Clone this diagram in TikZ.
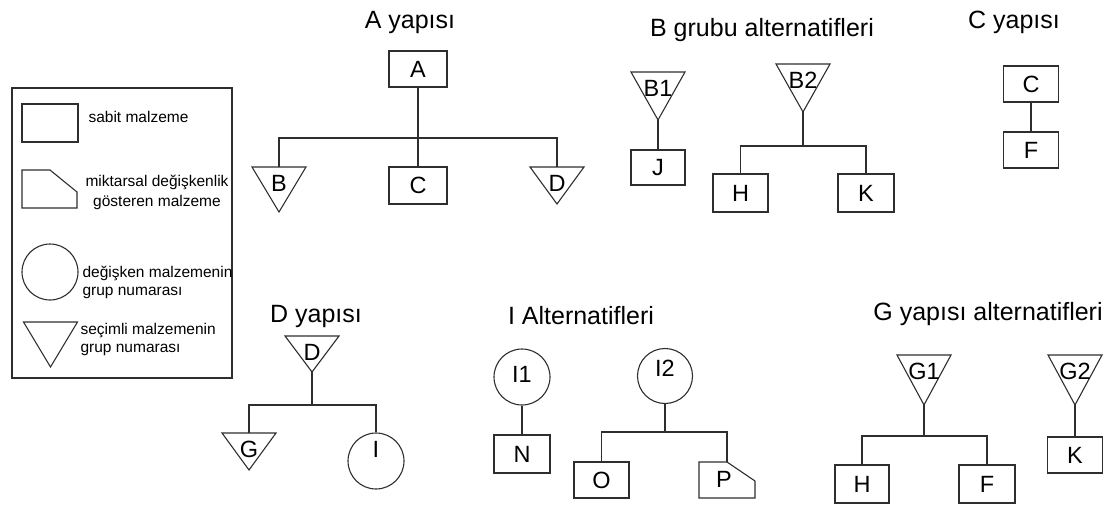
\documentclass[tikz,border=0pt]{standalone}
\usepackage{fontspec}
\setmainfont{Liberation Sans}

% downward triangle: name, centre x, top y, apex y, text
\newcommand\downtri[5]{%
  \coordinate (#1-top) at (#2,#3);
  \coordinate (#1-apex) at (#2,#4);
  \draw[line join=miter] (#2-27,#3) -- (#2+27,#3) -- (#1-apex) -- cycle;
  \node[lbl] (#1) at (#2,#3+16) {#5};}

\begin{document}
\begin{tikzpicture}[x=1pt,y=-1pt,
  color=black!82, text=black, line width=1.1pt,
  box/.style={draw, rectangle, minimum width=56pt, minimum height=37pt, inner sep=0pt,
              font=\fontsize{23.5}{23.5}\selectfont},
  circ/.style={draw, circle, minimum size=56pt, inner sep=0pt},
  lbl/.style={inner sep=0pt, font=\fontsize{23.5}{23.5}\selectfont},
  title/.style={anchor=base, inner sep=0pt, font=\fontsize{25}{25}\selectfont},
  legtext/.style={inner sep=0pt, font=\fontsize{15.5}{18}\selectfont}]

\useasboundingbox (0,0) rectangle (1114,506);

% ---------- legend ----------
\node[draw, rectangle, minimum width=220pt, minimum height=290pt, inner sep=0pt] (legend) at (122,233) {};
\node[box, minimum width=56pt, minimum height=38pt] (legbox) at (50,123) {};
\node[legtext, anchor=west] (legboxtxt) at (88,117) {sabit malzeme};
\draw[line join=miter] (22,170) -- (50,170) -- (77,192) -- (77,208) -- (22,208) -- cycle;
\node[legtext, align=center, font=\fontsize{15.5}{20}\selectfont] (legpenttxt) at (157,192)
  {miktarsal değişkenlik\\gösteren malzeme};
\node[circ] (legcirc) at (50,272) {};
\node[legtext, anchor=west, align=left] (legcirctxt) at (82,282) {değişken malzemenin\\grup numarası};
\downtri{legtri}{50.5}{322}{367}{}
\node[legtext, anchor=west, align=left] (legtritxt) at (80,339) {seçimli malzemenin\\grup numarası};

% ---------- A yapısı ----------
\node[title] (ttlA) at (410,28) {A yapısı};
\node[box, minimum width=58pt, minimum height=36pt] (A) at (418,69) {A};
\node[box, minimum width=58pt, minimum height=37pt] (C) at (418,185.5) {C};
\downtri{tB}{279}{167}{212}{B}
\downtri{tD}{557}{167}{204}{D}
\coordinate (Abus) at (418,138);
\draw (A.south) -- (C.north);
\draw (tB-top) |- (Abus) -| (tD-top);

% ---------- B grubu alternatifleri ----------
\node[title] (ttlB) at (762,36) {B grubu alternatifleri};
\downtri{tB1}{658}{72}{120}{B1}
\node[box, minimum width=54pt, minimum height=35pt] (J) at (658,167.5) {J};
\draw (tB1-apex) -- (J.north);
\downtri{tB2}{803}{64}{112}{B2}
\node[box, minimum width=55pt, minimum height=38pt] (HB) at (740.5,193) {H};
\node[box, minimum width=56pt, minimum height=38pt] (KB) at (866,193) {K};
\coordinate (B2bus) at (803,146);
\draw (tB2-apex) -- (B2bus);
\draw (HB.north) |- (B2bus) -| (KB.north);

% ---------- C yapısı ----------
\node[title] (ttlC) at (1014,28) {C yapısı};
\node[box, minimum width=55pt, minimum height=36pt] (CC) at (1031,84) {C};
\node[box, minimum width=55pt, minimum height=36pt] (FC) at (1031,150) {F};
\draw (CC.south) -- (FC.north);

% ---------- D yapısı ----------
\node[title] (ttlD) at (316,322) {D yapısı};
\downtri{tDD}{312}{336}{372}{D}
\downtri{tG}{249}{433}{470}{G}
\node[circ] (I) at (376,461) {};
\node[lbl] (Ilbl) at (376,449) {I};
\coordinate (Dbus) at (312,405);
\draw (tDD-apex) -- (Dbus);
\draw (tG-top) |- (Dbus) -| (I.north);

% ---------- I Alternatifleri ----------
\node[title] (ttlI) at (581,324) {I Alternatifleri};
\node[circ] (I1) at (522,377) {};
\node[lbl] (I1lbl) at (522,374) {I1};
\node[box, minimum width=56pt, minimum height=38pt] (N) at (522,454) {N};
\draw (I1.south) -- (N.north);
\node[circ, minimum size=55pt] (I2) at (665,376) {};
\node[lbl] (I2lbl) at (665,368) {I2};
\node[box, minimum width=55pt, minimum height=36pt] (O) at (601.5,480) {O};
\draw[line join=miter] (699,462) -- (727,462) -- (755,481) -- (755,498) -- (699,498) -- cycle;
\coordinate (P-top) at (727,462);
\node[lbl] (P) at (724,479) {P};
\coordinate (I2bus) at (665,432);
\draw (I2.south) -- (I2bus);
\draw (O.north) |- (I2bus) -| (P-top);

% ---------- G yapısı alternatifleri ----------
\node[title] (ttlG) at (988,320) {G yapısı alternatifleri};
\downtri{tG1}{924}{355}{405}{G1}
\node[box, minimum width=54pt, minimum height=38pt] (HG) at (862,484) {H};
\node[box, minimum width=56pt, minimum height=38pt] (FG) at (987,484) {F};
\coordinate (G1bus) at (924,436);
\draw (tG1-apex) -- (G1bus);
\draw (HG.north) |- (G1bus) -| (FG.north);
\downtri{tG2}{1075}{355}{405}{G2}
\node[box, minimum width=55pt, minimum height=36pt] (KG) at (1075,455) {K};
\draw (tG2-apex) -- (KG.north);

\end{tikzpicture}
\end{document}
